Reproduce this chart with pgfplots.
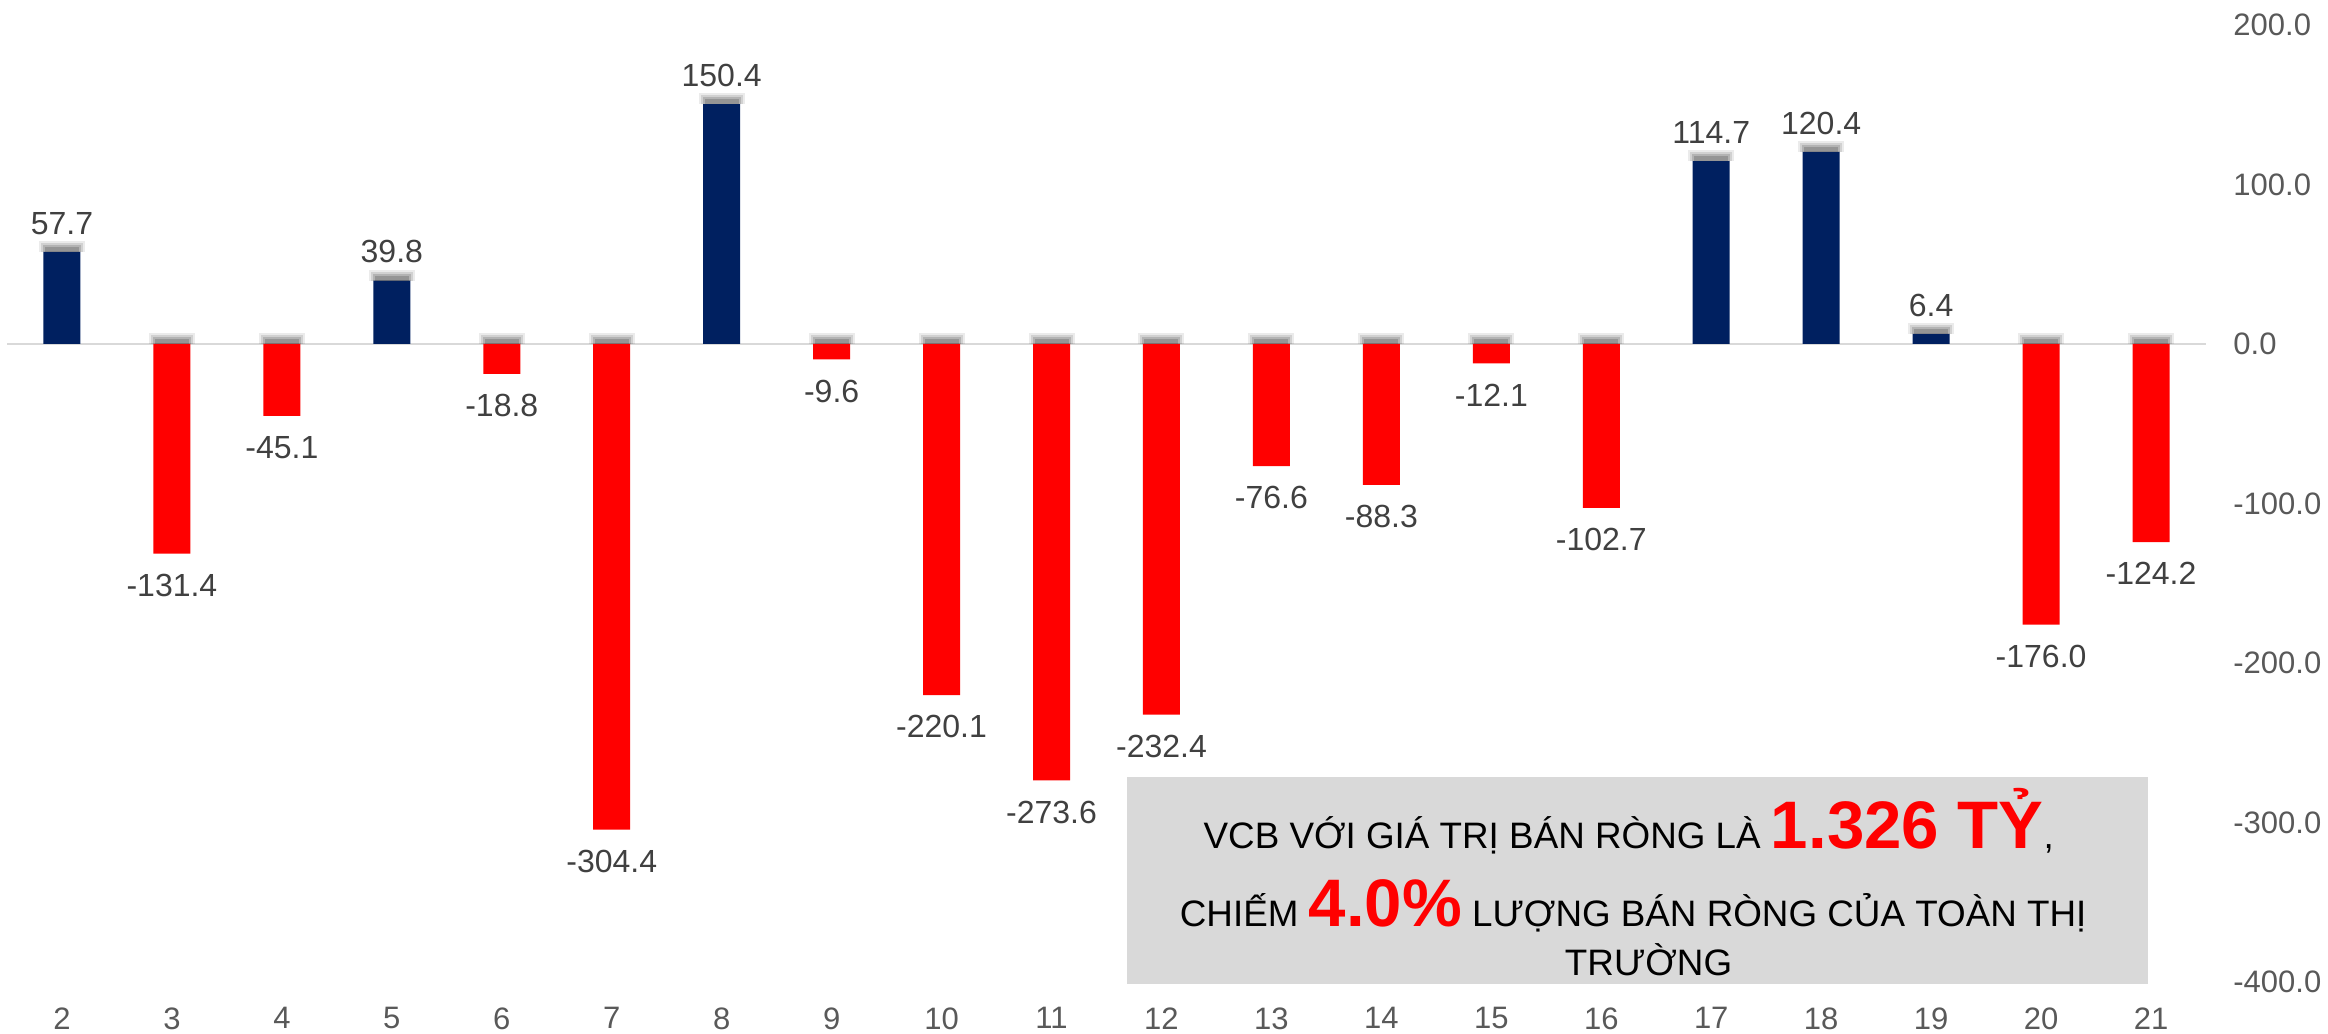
\documentclass[border=0pt]{standalone}
\usepackage{fontspec}
\setmainfont{Liberation Sans}
\usepackage{pgfplots}
\pgfplotsset{compat=1.18}
\usepackage{pgfplotstable}
\definecolor{navy}{HTML}{002060}
\definecolor{barred}{HTML}{FF0000}
\definecolor{lab}{HTML}{404040}
\definecolor{tickc}{HTML}{595959}
\definecolor{zeroc}{HTML}{D9D9D9}
\definecolor{boxg}{HTML}{D9D9D9}

\pgfplotstableread{
x y
2 57.7
5 39.8
8 150.4
17 114.7
18 120.4
19 6.4
}\pos
\pgfplotstableread{
x y
3 -131.4
4 -45.1
6 -18.8
7 -304.4
9 -9.6
10 -220.1
11 -273.6
12 -232.4
13 -76.6
14 -88.3
15 -12.1
16 -102.7
20 -176.0
21 -124.2
}\neg
\pgfplotstableread{
x y
2 57.7
3 -131.4
4 -45.1
5 39.8
6 -18.8
7 -304.4
8 150.4
9 -9.6
10 -220.1
11 -273.6
12 -232.4
13 -76.6
14 -88.3
15 -12.1
16 -102.7
17 114.7
18 120.4
19 6.4
20 -176.0
21 -124.2
}\all

\pgfdeclareplotmark{shadA}{%
  \pgfpathrectangle{\pgfpoint{-11.5pt}{0pt}}{\pgfpoint{23pt}{5.5pt}}\pgfusepath{fill}}
\pgfdeclareplotmark{shadB}{%
  \pgfpathrectangle{\pgfpoint{-10.5pt}{0pt}}{\pgfpoint{21pt}{4.5pt}}\pgfusepath{fill}}
\pgfdeclareplotmark{shadC}{%
  \pgfpathrectangle{\pgfpoint{-9.5pt}{0pt}}{\pgfpoint{19pt}{3.5pt}}\pgfusepath{fill}}
\pgfdeclareplotmark{shadD}{%
  \pgfpathrectangle{\pgfpoint{-8.5pt}{0pt}}{\pgfpoint{17pt}{2.5pt}}\pgfusepath{fill}}

\begin{document}
\begin{tikzpicture}
\begin{axis}[
  name=ax,
  scale only axis,
  width=1099.5pt, height=478.5pt,
  xmin=1.5, xmax=21.5,
  ymin=-400, ymax=200,
  axis line style={draw=none},
  major tick style={draw=none},
  ytick={-400,-300,-200,-100,0,100,200},
  yticklabel pos=right,
  xtick={2,...,21},
  ticklabel style={font=\fontsize{15.5}{18}\selectfont, text=tickc},
  yticklabel style={anchor=west, inner sep=0pt, xshift=13.5pt,
    /pgf/number format/fixed, /pgf/number format/fixed zerofill,
    /pgf/number format/precision=1},
  xticklabel style={anchor=north, inner sep=0pt, yshift=-12.5pt},
  /pgf/number format/assume math mode=true,
  clip=false,
]
\fill[boxg] (axis cs:11.69,-401) rectangle (axis cs:20.97,-271.3);
\draw[zeroc, line width=1pt] (axis cs:1.5,0) -- (axis cs:21.5,0);
% soft shadows on the top edge of each bar
\addplot[only marks, mark=shadA, draw=none, fill=black, fill opacity=0.08]
  table[x=x, y expr={max(\thisrow{y},0)}] {\all};
\addplot[only marks, mark=shadB, draw=none, fill=black, fill opacity=0.11]
  table[x=x, y expr={max(\thisrow{y},0)}] {\all};
\addplot[only marks, mark=shadC, draw=none, fill=black, fill opacity=0.14]
  table[x=x, y expr={max(\thisrow{y},0)}] {\all};
\addplot[only marks, mark=shadD, draw=none, fill=black, fill opacity=0.17]
  table[x=x, y expr={max(\thisrow{y},0)}] {\all};
% bars
\addplot[ybar, bar width=18.5pt, bar shift=0pt, fill=navy, draw=none,
  nodes near coords,
  every node near coord/.append style={font=\fontsize{16}{19}\selectfont, text=lab,
    anchor=south, inner sep=0pt, yshift=8.5pt,
    /pgf/number format/fixed, /pgf/number format/fixed zerofill,
    /pgf/number format/precision=1, /pgf/number format/assume math mode=true}]
  table[x=x, y=y] {\pos};
\addplot[ybar, bar width=18.5pt, bar shift=0pt, fill=barred, draw=none,
  nodes near coords,
  every node near coord/.append style={font=\fontsize{16}{19}\selectfont, text=lab,
    anchor=north, inner sep=0pt, yshift=-10pt,
    /pgf/number format/fixed, /pgf/number format/fixed zerofill,
    /pgf/number format/precision=1, /pgf/number format/assume math mode=true}]
  table[x=x, y=y] {\neg};
% text box
\node[anchor=base, inner sep=0pt] at (axis cs:16.25,-316.4)
  {\fontsize{18.4}{21}\selectfont VCB VỚI GIÁ TRỊ BÁN RÒNG LÀ {\color{barred}\fontsize{33.6}{38}\selectfont\bfseries 1.326 TỶ},};
\node[anchor=base, inner sep=0pt] at (axis cs:16.29,-365.3)
  {\fontsize{18.4}{21}\selectfont CHIẾM {\color{barred}\fontsize{33.6}{38}\selectfont\bfseries 4.0\%} LƯỢNG BÁN RÒNG CỦA TOÀN THỊ};
\node[anchor=base, inner sep=0pt] at (axis cs:16.43,-396.0)
  {\fontsize{18.4}{21}\selectfont TRƯỜNG};
\end{axis}
\pgfresetboundingbox
\path[use as bounding box] ([xshift=-3.5pt,yshift=-26pt]ax.south west) rectangle ([xshift=61pt,yshift=12.5pt]ax.north east);
\end{tikzpicture}
\end{document}
